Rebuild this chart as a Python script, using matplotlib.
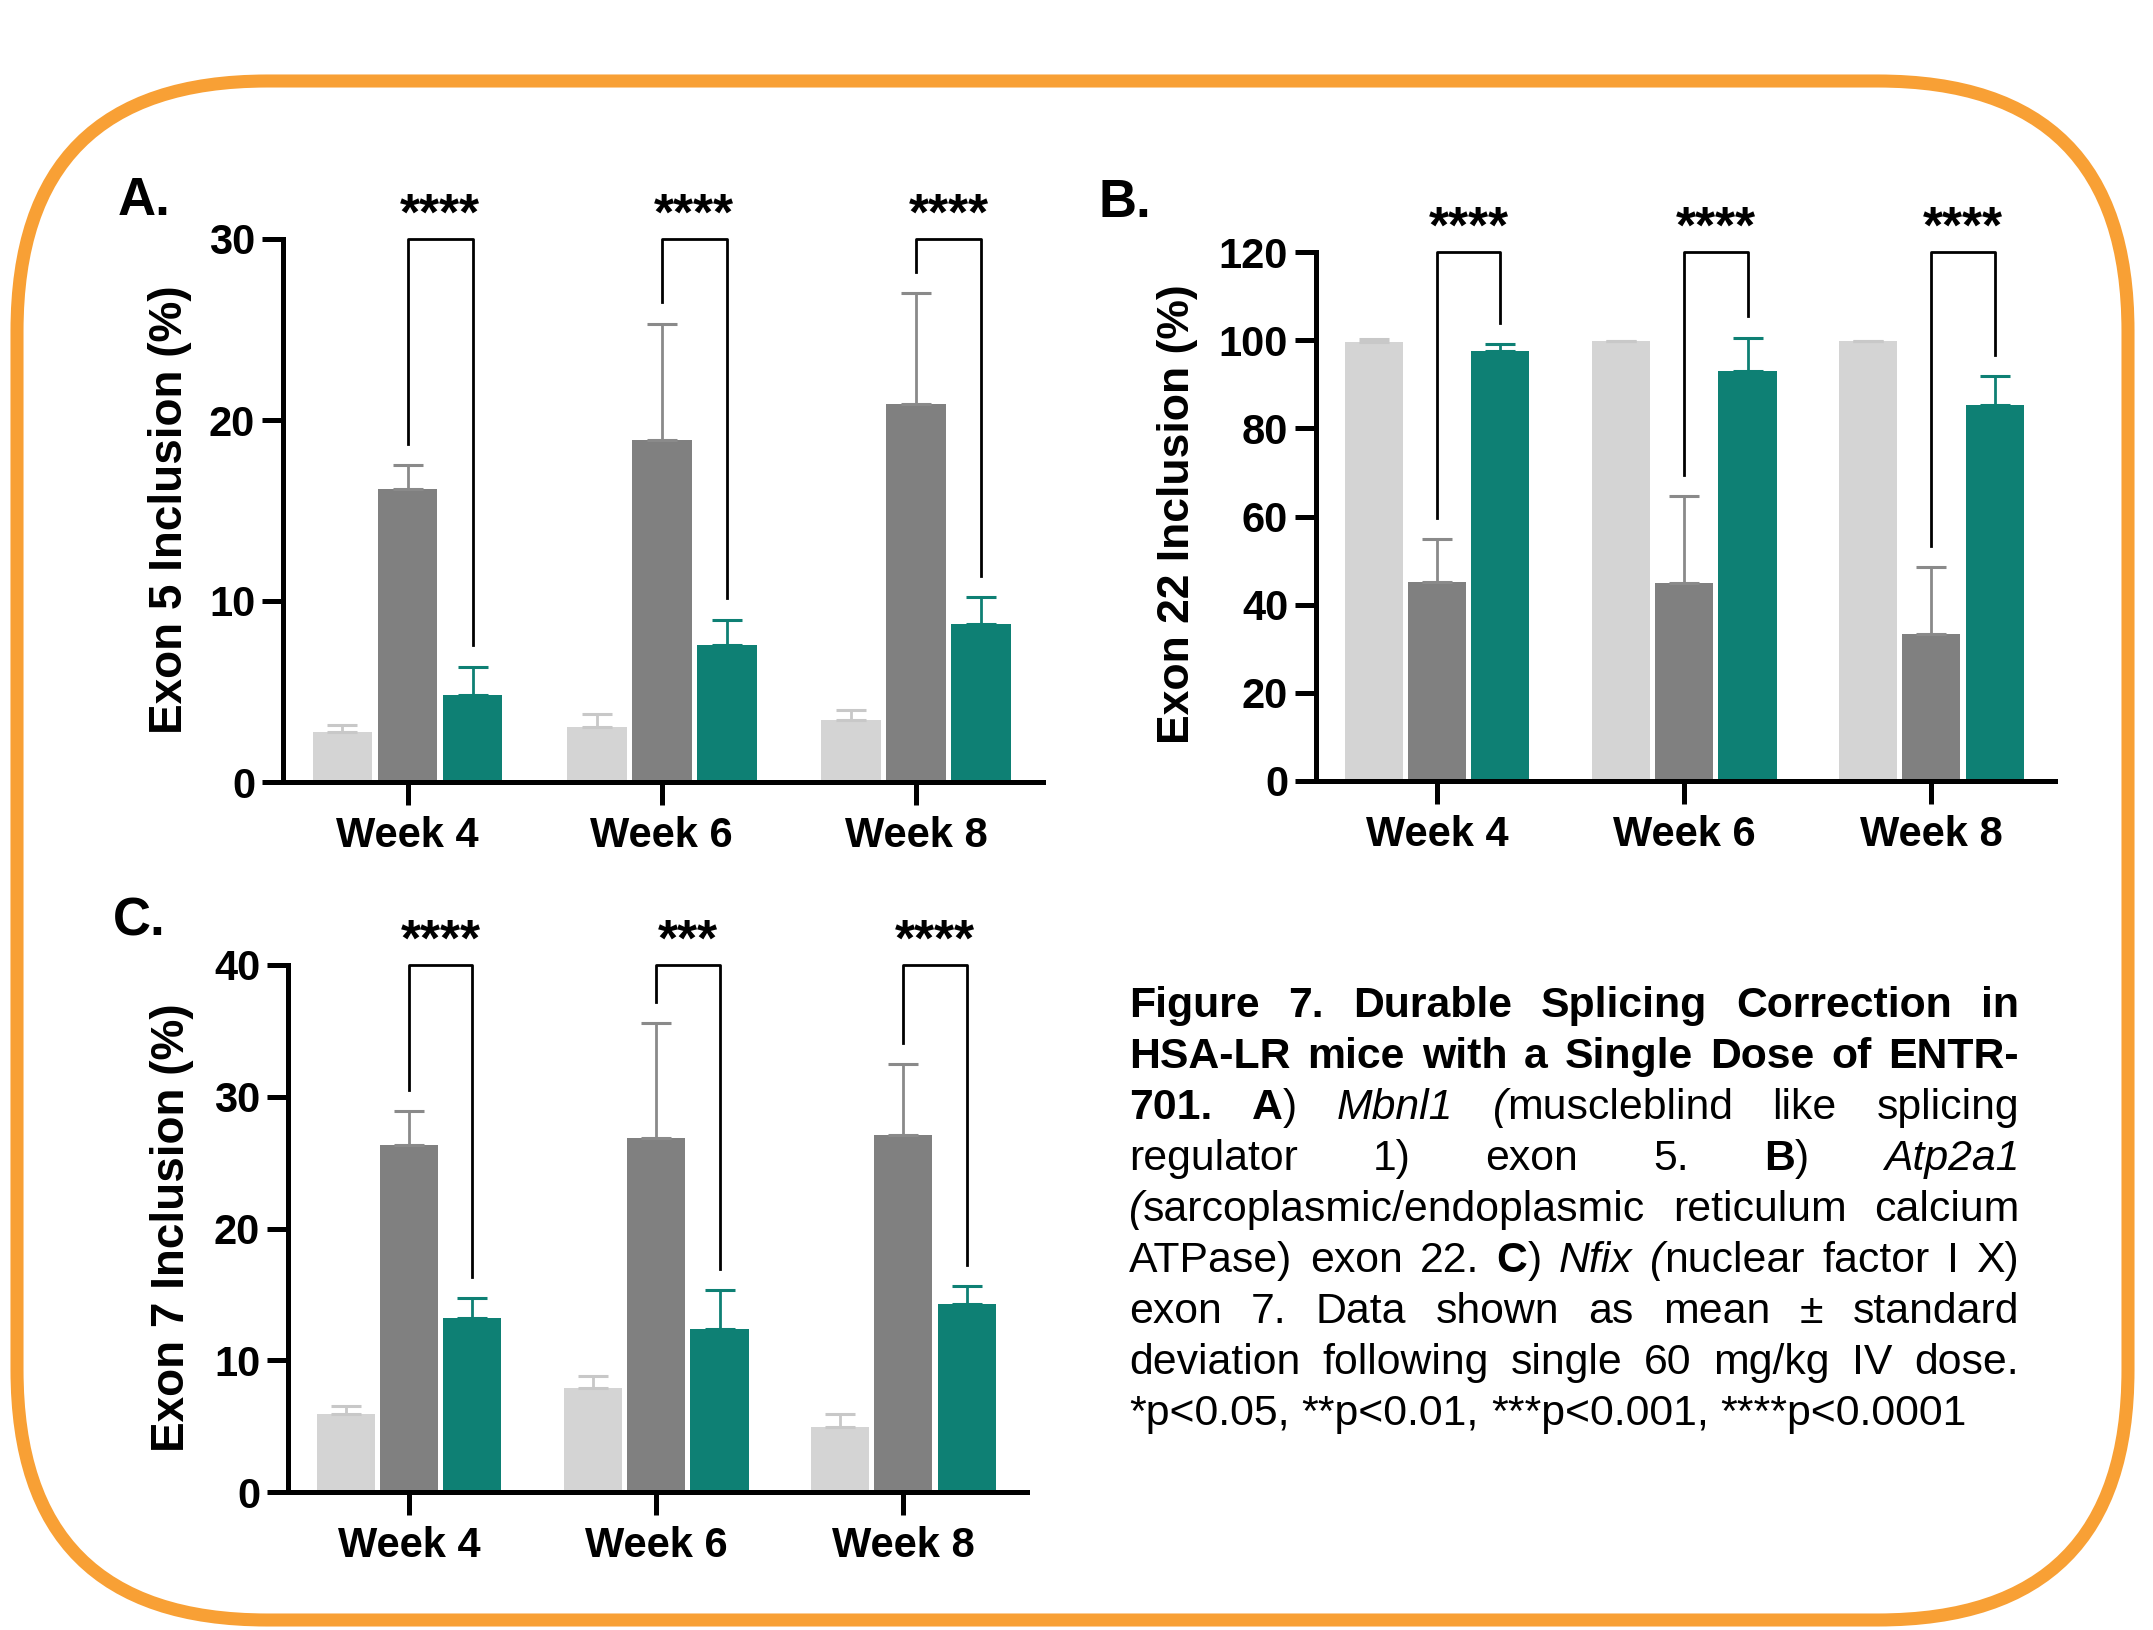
import matplotlib
matplotlib.use("Agg")
import matplotlib.pyplot as plt
import numpy as np
from matplotlib.patches import FancyBboxPatch

plt.rcParams["font.family"] = ["Liberation Sans", "DejaVu Sans"]
plt.rcParams["font.weight"] = "bold"

weeks = ["Week 4", "Week 6", "Week 8"]

# A) Mbnl1 exon 5 -- control / HSA-LR / ENTR-701
a_ctrl = [2.75, 3.05, 3.45]
a_ctrl_sd = [0.42, 0.68, 0.55]
a_hsa = [16.2, 18.9, 20.9]
a_hsa_sd = [1.3, 6.4, 6.1]
a_entr = [4.8, 7.55, 8.75]
a_entr_sd = [1.55, 1.42, 1.45]
a_stars = ["****", "****", "****"]

# B) Atp2a1 exon 22
b_ctrl = [99.6, 99.8, 99.8]
b_ctrl_sd = [0.7, 0.1, 0.1]
b_hsa = [45.1, 45.0, 33.4]
b_hsa_sd = [9.8, 19.6, 15.2]
b_entr = [97.5, 93.1, 85.3]
b_entr_sd = [1.7, 7.5, 6.5]
b_stars = ["****", "****", "****"]

# C) Nfix exon 7
c_ctrl = [5.9, 7.9, 4.95]
c_ctrl_sd = [0.6, 0.9, 1.0]
c_hsa = [26.3, 26.9, 27.1]
c_hsa_sd = [2.65, 8.7, 5.4]
c_entr = [13.2, 12.4, 14.3]
c_entr_sd = [1.55, 2.9, 1.3]
c_stars = ["****", "***", "****"]

BAR_COLORS = ["#d4d4d4", "#808080", "#0e8074"]
ERR_COLORS = ["#c8c8c8", "#8a8a8a", "#0e8074"]
ORANGE = "#f8a035"
PITCH = 0.256
BAR_W = 0.235

W, H = 2153, 1630
fig = plt.figure(figsize=(W / 100, H / 100), dpi=100)
fig.patch.set_facecolor("white")

# overlay in pixel coordinates for frame, labels and caption
over = fig.add_axes([0, 0, 1, 1], zorder=0)
over.set_xlim(0, W)
over.set_ylim(H, 0)
over.set_axis_off()

frame = FancyBboxPatch((17, 81), 2128 - 17, 1620 - 81,
                       boxstyle="round,pad=0,rounding_size=250",
                       fill=False, edgecolor=ORANGE, linewidth=9.4)
over.add_patch(frame)


def px_axes(left, top, right, bottom):
    ax = fig.add_axes([left / W, 1 - bottom / H, (right - left) / W, (bottom - top) / H], zorder=1)
    ax.patch.set_alpha(0)
    return ax


def draw_panel(ax, means, sds, stars, ymax, step):
    x = np.arange(len(weeks))
    for k in range(3):
        xs = x + (k - 1) * PITCH
        ax.bar(xs, means[k], width=BAR_W, color=BAR_COLORS[k], zorder=2)
        ax.errorbar(xs, means[k], yerr=[np.zeros(len(x)), sds[k]], fmt="none",
                    ecolor=ERR_COLORS[k], elinewidth=2, capsize=10.8, capthick=2.2, zorder=3)

    # significance brackets: dark bar vs teal bar
    gap = 0.04 * ymax
    for i in range(len(weeks)):
        xl, xr = x[i], x[i] + PITCH
        yl = means[1][i] + sds[1][i] + gap
        yr = means[2][i] + sds[2][i] + gap
        ax.plot([xl, xl, xr, xr], [yl, ymax, ymax, yr], color="black", lw=2,
                clip_on=False, zorder=4)
        ax.annotate(stars[i], ((xl + xr) / 2, ymax), xytext=(0, 7),
                    textcoords="offset points", ha="center", va="baseline",
                    fontsize=37, fontweight="bold", annotation_clip=False)

    ax.set_xlim(-0.49, 2.5)
    ax.set_ylim(0, ymax)
    ax.set_yticks(np.arange(0, ymax + 0.1, step))
    ax.set_xticks(x)
    ax.set_xticklabels(weeks)
    for s in ("top", "right"):
        ax.spines[s].set_visible(False)
    for s in ("left", "bottom"):
        ax.spines[s].set_linewidth(3.6)
    ax.tick_params(axis="y", length=15, width=3.6, pad=5, labelsize=30)
    ax.tick_params(axis="x", length=16.5, width=3.6, pad=8, labelsize=30)


ax_a = px_axes(283, 239, 1043, 782)
draw_panel(ax_a, [a_ctrl, a_hsa, a_entr], [a_ctrl_sd, a_hsa_sd, a_entr_sd], a_stars, 30, 10)

ax_b = px_axes(1316, 252, 2055, 781)
draw_panel(ax_b, [b_ctrl, b_hsa, b_entr], [b_ctrl_sd, b_hsa_sd, b_entr_sd], b_stars, 120, 20)

ax_c = px_axes(288, 965, 1027, 1492)
draw_panel(ax_c, [c_ctrl, c_hsa, c_entr], [c_ctrl_sd, c_hsa_sd, c_entr_sd], c_stars, 40, 10)

# y labels and panel letters
over.text(170, 510, "Exon 5 Inclusion (%)", rotation=90, ha="center", va="center",
          fontsize=33, fontweight="bold")
over.text(1177, 514, "Exon 22 Inclusion (%)", rotation=90, ha="center", va="center",
          fontsize=32, fontweight="bold")
over.text(172, 1228, "Exon 7 Inclusion (%)", rotation=90, ha="center", va="center",
          fontsize=33, fontweight="bold")
over.text(118, 215, "A.", ha="left", va="baseline", fontsize=38, fontweight="bold")
over.text(1098, 217, "B.", ha="left", va="baseline", fontsize=38, fontweight="bold")
over.text(113, 936, "C.", ha="left", va="baseline", fontsize=38, fontweight="bold")

# ── Caption (justified) ──
Bd, It, Rg = "b", "i", "r"
STY = {Bd: dict(fontweight="bold", fontstyle="normal"),
       It: dict(fontweight="normal", fontstyle="italic"),
       Rg: dict(fontweight="normal", fontstyle="normal")}


def words(s, st):
    return [[(w, st)] for w in s.split()]


caption = [
    words("Figure 7. Durable Splicing Correction in", Bd),
    words("HSA-LR mice with a Single Dose of ENTR-", Bd),
    [[("701.", Bd)], [("A", Bd), (")", Rg)], [("Mbnl1", It)], [("(", It), ("muscleblind", Rg)]]
    + words("like splicing", Rg),
    words("regulator 1) exon 5.", Rg) + [[("B", Bd), (")", Rg)], [("Atp2a1", It)]],
    [[("(", It), ("sarcoplasmic/endoplasmic", Rg)]] + words("reticulum calcium", Rg),
    words("ATPase) exon 22.", Rg) + [[("C", Bd), (")", Rg)], [("Nfix", It)], [("(", It), ("nuclear", Rg)]]
    + words("factor I X)", Rg),
    words("exon 7. Data shown as mean \u00b1 standard", Rg),
    words("deviation following single 60 mg/kg IV dose.", Rg),
    words("*p<0.05, **p<0.01, ***p<0.001, ****p<0.0001", Rg),
]

CAP_FS = 30.8
cap_left, cap_right = 1129, 2019
base0, line_h = 1017, 51
renderer = fig.canvas.get_renderer()
space_w = 0.278 * CAP_FS * 100 / 72

for li, line in enumerate(caption):
    y = base0 + li * line_h
    objs = []
    for word in line:
        segs = []
        for txt, st in word:
            t = over.text(0, y, txt, fontsize=CAP_FS, ha="left", va="baseline", **STY[st])
            segs.append((t, t.get_window_extent(renderer).width))
        objs.append(segs)
    widths = [sum(w for _, w in segs) for segs in objs]
    if li < len(caption) - 1:
        gap = (cap_right - cap_left - sum(widths)) / (len(objs) - 1)
    else:
        gap = space_w
    xpos = cap_left
    for segs, ww in zip(objs, widths):
        xx = xpos
        for t, w in segs:
            t.set_x(xx)
            xx += w
        xpos += ww + gap

fig.savefig("out.png", dpi=100, facecolor="white")
